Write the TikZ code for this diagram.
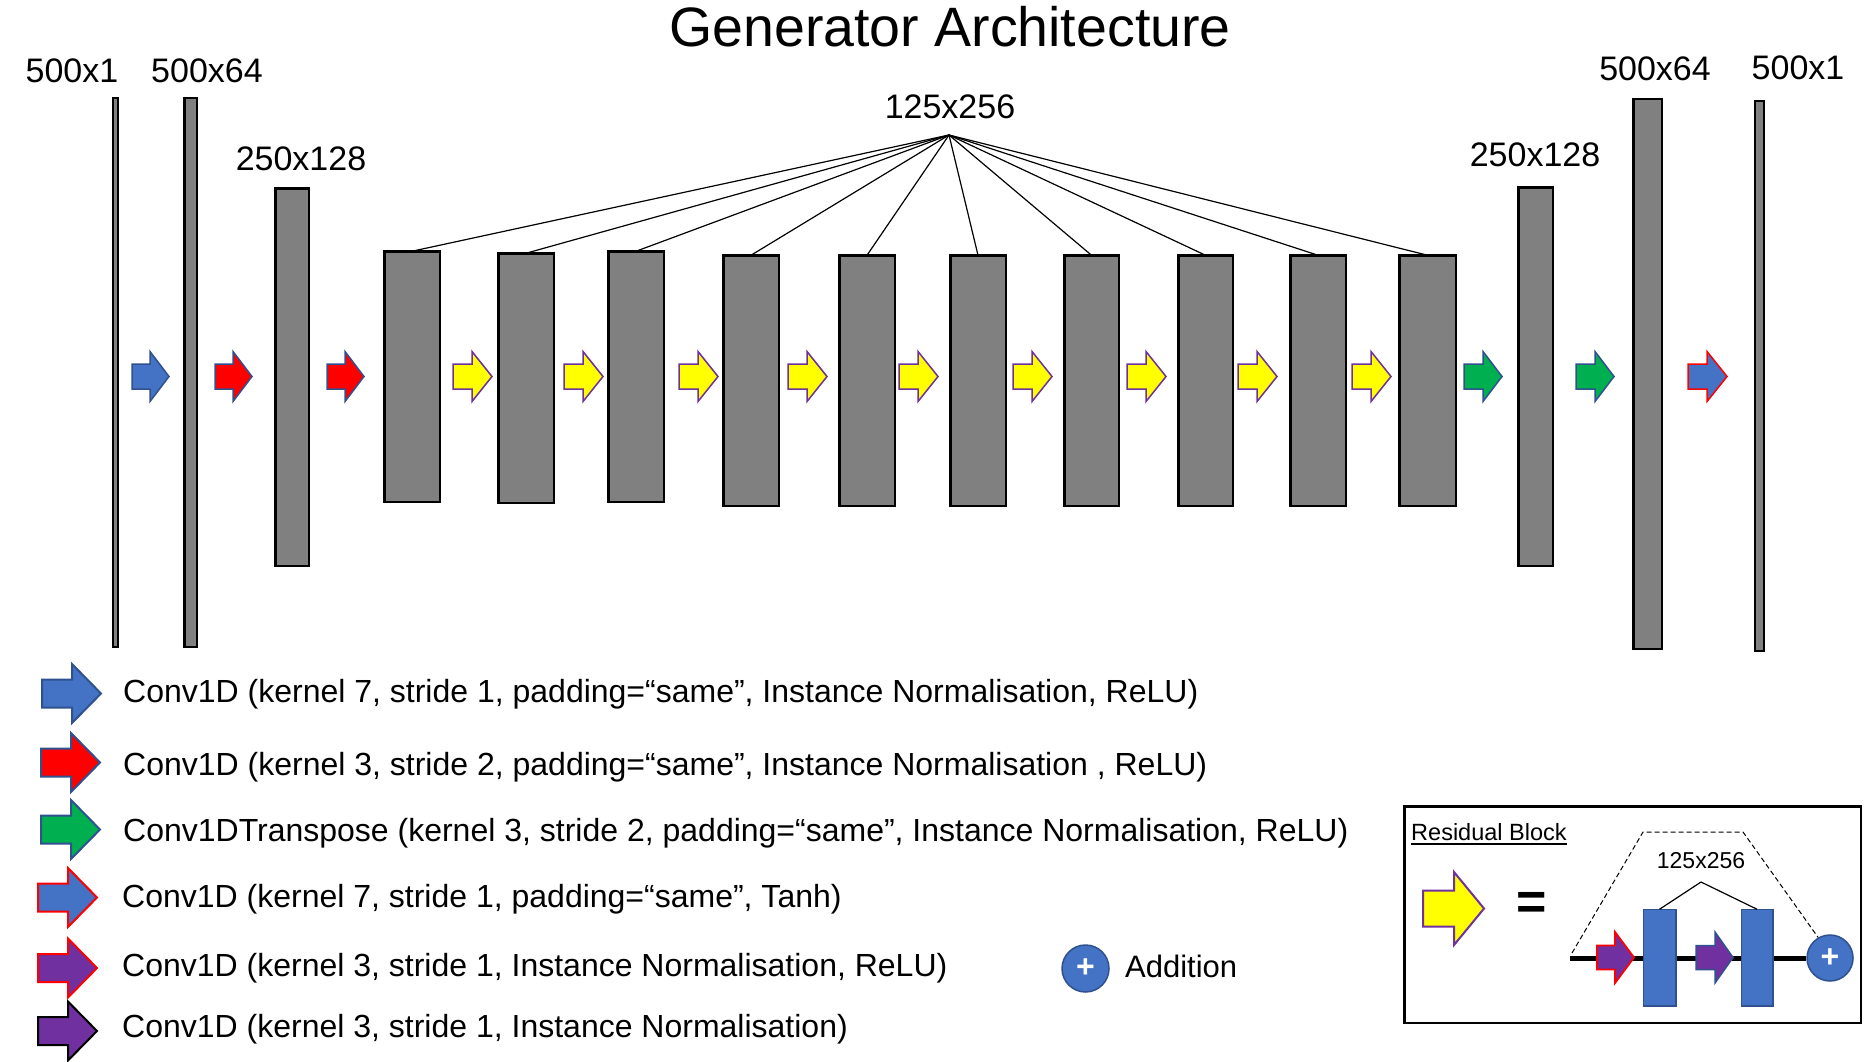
\documentclass[tikz,border=0pt]{standalone}
\usepackage{fontspec}
\setmainfont{Liberation Sans}
\usetikzlibrary{calc}
\newcommand\myfs[1]{\fontsize{#1}{#1}\selectfont}
\definecolor{obl}{HTML}{4472C4}
\definecolor{obd}{HTML}{2F528F}
\definecolor{ogreen}{HTML}{00B050}
\definecolor{opurple}{HTML}{7030A0}
\definecolor{midgray}{HTML}{808080}
\definecolor{oyellow}{HTML}{FFFF00}
\definecolor{ored}{HTML}{FF0000}
% block arrow: #1 style, #2 left x, #3 centre y, #4 length, #5 height, #6 shaft height, #7 head length
\newcommand{\blockarr}[7]{%
  \pgfmathsetmacro\baSL{#4-#7}%
  \pgfmathsetmacro\baHS{(#5-#6)/2}%
  \pgfmathsetmacro\baH{#5/2}%
  \pgfmathsetmacro\baS{#6/2}%
  \draw[#1] (#2,#3-\baS) -- ++(\baSL,0) -- ++(0,-\baHS) -- ++(#7,\baH) -- ++(-#7,\baH) -- ++(0,-\baHS) -- ++(-\baSL,0) -- cycle;}
% bar: [style] name, x1 y1 x2 y2 (outer visual edges)
\newcommand{\gbar}[6][]{%
  \pgfmathsetmacro\gw{#5-#3-2.5}%
  \pgfmathsetmacro\gh{#6-#4-2.5}%
  \node[bar,#1,minimum width=\gw pt,minimum height=\gh pt] (#2) at (#3+1.25,#4+1.25) {};}
\tikzset{
  bar/.style={rectangle, draw=black, fill=midgray, line width=2.5pt, inner sep=0pt, outer sep=0pt, anchor=north west},
  thinbar/.style={line width=2pt},
  lbl/.style={anchor=base, inner sep=0pt, font={\myfs{34}}},
  leg/.style={anchor=base west, inner sep=0pt, font={\myfs{32}}},
  fan/.style={line width=1.2pt},
  arwblue/.style={fill=obl, draw=obd},
  arwred/.style={fill=ored, draw=obd},
  arwgreen/.style={fill=ogreen, draw=obd},
  arwyellow/.style={fill=oyellow, draw=opurple},
  arwtanh/.style={fill=obl, draw=ored},
  arwpr/.style={fill=opurple, draw=ored},
  arwpk/.style={fill=opurple, draw=black},
  arwpb/.style={fill=opurple, draw=obd},
  addcirc/.style={circle, fill=obl, draw=obd, line width=1.5pt, inner sep=0pt, minimum size=47pt, text=white, font={\myfs{32}\bfseries}},
}
\begin{document}
\begin{tikzpicture}[x=1pt,y=-1pt]
\useasboundingbox (0,0) rectangle (1870,1062);
\node[anchor=base, inner sep=0pt, font={\myfs{55.5}}] (title) at (950,47) {Generator Architecture};

% labels
\node[lbl] (l1) at (72,83) {500x1};
\node[lbl] (l2) at (207,83) {500x64};
\node[lbl] (l3) at (301,170) {250x128};
\node[lbl] (lres) at (950,118) {125x256};
\node[lbl] (u3l) at (1535,166) {250x128};
\node[lbl] (u2l) at (1655,81) {500x64};
\node[lbl] (u1l) at (1798,80) {500x1};

% bars
\gbar[thinbar]{L1}{112}{97}{119}{648}
\gbar{L2}{183}{97}{198}{648}
\gbar{L3}{274}{187}{310}{567}
\gbar{R1}{383}{250}{441}{503}
\gbar{R2}{497}{252}{555}{504}
\gbar{R3}{607}{250}{665}{503}
\gbar{R4}{722}{254}{780}{507}
\gbar{R5}{838}{254}{896}{507}
\gbar{R6}{949}{254}{1007}{507}
\gbar{R7}{1063}{254}{1120}{507}
\gbar{R8}{1177}{254}{1234}{507}
\gbar{R9}{1289}{254}{1347}{507}
\gbar{R10}{1398}{254}{1457}{507}
\gbar{U3}{1517}{186}{1554}{567}
\gbar{U2}{1632}{98}{1663}{650}
\gbar[thinbar]{U1}{1754}{100}{1765}{652}

% fan
\coordinate (apex) at (949,135);
\foreach \r in {R1,R2,R3,R4,R5,R6,R7,R8,R9,R10}{
  \draw[fan] (apex) -- (\r.north);
}

% main arrows
\blockarr{arwblue, line width=1.5pt}{132}{376.5}{37}{50}{25}{19}
\blockarr{arwred, line width=1.5pt}{215}{376.5}{37}{50}{25}{19}
\blockarr{arwred, line width=1.5pt}{327}{376.5}{37}{50}{25}{19}
\foreach \xx in {453,564,679,788,899,1013,1127,1238,1352}{
  \blockarr{arwyellow, line width=1.5pt}{\xx}{376.5}{39}{50}{25}{20}
}
\blockarr{arwgreen, line width=1.5pt}{1464}{376.5}{38}{50}{25}{19}
\blockarr{arwgreen, line width=1.5pt}{1576}{376.5}{38}{50}{25}{19}
\blockarr{arwtanh, line width=1.5pt}{1688}{376.5}{39}{50}{25}{20}

% legend
\blockarr{arwblue, line width=2pt}{42}{693.5}{59}{59}{28}{29}
\blockarr{arwred, line width=2pt}{41}{762.5}{59}{59}{28}{29}
\blockarr{arwgreen, line width=2pt}{41}{829.5}{59}{59}{28}{29}
\blockarr{arwtanh, line width=2pt}{38}{897.5}{59}{59}{28}{29}
\blockarr{arwpr, line width=2pt}{38}{968}{59}{59}{28}{29}
\blockarr{arwpk, line width=2pt}{38}{1031}{59}{59}{28}{29}
\node[leg] (t1) at (123,702) {Conv1D (kernel 7, stride 1, padding=“same”, Instance Normalisation, ReLU)};
\node[leg] (t2) at (123,775) {Conv1D (kernel 3, stride 2, padding=“same”, Instance Normalisation , ReLU)};
\node[leg] (t3) at (123,841) {Conv1DTranspose (kernel 3, stride 2, padding=“same”, Instance Normalisation, ReLU)};
\node[leg] (t4) at (122,907) {Conv1D (kernel 7, stride 1, padding=“same”, Tanh)};
\node[leg] (t5) at (122,976) {Conv1D (kernel 3, stride 1, Instance Normalisation, ReLU)};
\node[leg] (t6) at (122,1037) {Conv1D (kernel 3, stride 1, Instance Normalisation)};

\node[addcirc] (addc) at (1085.5,968.5) {+};
\node[leg, font={\myfs{31}}] (addt) at (1125,977) {Addition};

% residual block
\gbar[draw=black, fill=white, line width=2.5pt]{resbox}{1403}{805}{1862}{1024}
\node[anchor=base west, inner sep=0pt, font={\myfs{23.5}}] (rbt) at (1411,840) {Residual Block};
\draw[line width=1.8pt] ([yshift=-4pt]rbt.base west) -- ([yshift=-4pt]rbt.base east);
\blockarr{arwyellow, line width=2pt}{1423}{908.5}{61}{73}{36}{30}
\node[inner sep=0pt, font={\myfs{52}\bfseries}] (eq) at (1532,906) {=};

\node[addcirc, minimum size=46pt] (rc) at (1830,958) {+};
\coordinate (rs) at (1570,958);
\draw[line width=5pt] (rs) -- (rc.west);
\blockarr{arwpr, line width=1.8pt}{1597}{957.5}{37}{51}{24}{19}
\gbar[draw=obd, fill=obl, line width=1.5pt]{B1}{1642}{908}{1677}{1007}
\blockarr{arwpb, line width=1.5pt}{1696}{957.5}{37}{51}{24}{18}
\gbar[draw=obd, fill=obl, line width=1.5pt]{B2}{1740}{908}{1774}{1007}
\node[anchor=base, inner sep=0pt, font={\myfs{23}}] (rlbl) at (1701,868) {125x256};
\coordinate (rapex) at (1701,882);
\draw[line width=1.2pt] (rapex) -- (B1.north);
\draw[line width=1.2pt] (rapex) -- (B2.north);
\draw[line width=1pt, dash pattern=on 5pt off 3pt] (1572,953) -- (1643,832) -- (1743,832) -- (rc.120);
\end{tikzpicture}
\end{document}
